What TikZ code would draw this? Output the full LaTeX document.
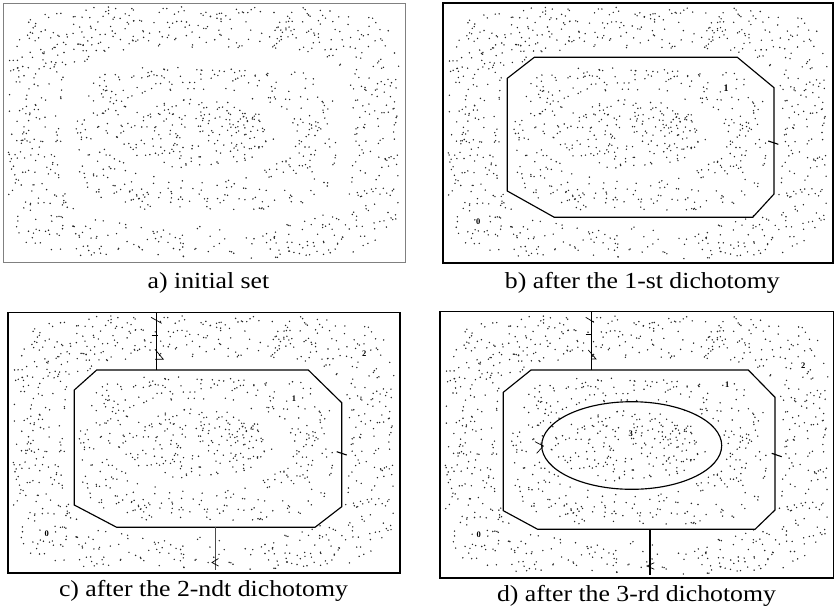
\documentclass[tikz,border=0pt]{standalone}
\usepackage{fontspec}
\setmainfont{Liberation Serif}
\newfontfamily\captfont[FakeStretch=1.12]{Liberation Serif}

% one point set, shared by all four panels
\gdef\cloudlist{}
\newcommand\addpoint[2]{%
  \ifx\cloudlist\empty\xdef\cloudlist{#1/#2}%
  \else\xdef\cloudlist{\cloudlist,#1/#2}\fi}

\pgfmathsetseed{2718}
% cluster 0: outer band
\foreach \k in {1,...,1500}{%
  \pgfmathsetmacro\px{197*rand}%
  \pgfmathsetmacro\py{127*rand}%
  \pgfmathtruncatemacro\ok{((abs(\px)/196)^6+(abs(\py)/126)^6<1) && ((abs(\px-3)/146)^4+(abs(\py-4)/89)^4>1)}%
  \ifnum\ok=1 \addpoint\px\py\fi}
% cluster 1: inner band
\foreach \k in {1,...,560}{%
  \pgfmathsetmacro\px{2+130*rand}%
  \pgfmathsetmacro\py{6+72*rand}%
  \pgfmathtruncatemacro\ok{((abs(\px-2)/130)^4+(abs(\py-6)/72)^4<1) && ((abs(\px+2)/92)^2+(abs(\py-4)/45)^2>1)}%
  \ifnum\ok=1 \addpoint\px\py\fi}
% cluster 3: core
\foreach \k in {1,...,250}{%
  \pgfmathsetmacro\px{-8+80*rand}%
  \pgfmathsetmacro\py{1+35*rand}%
  \pgfmathtruncatemacro\ok{(abs(\px+8)/80)^2+(abs(\py-1)/35)^2<1}%
  \ifnum\ok=1 \addpoint\px\py\fi}

\newcommand\drawcloud{%
  \foreach \x/\y in \cloudlist {\fill[dotc] (\x,\y) circle [radius=0.8pt];}}

\begin{document}
\begin{tikzpicture}[x=1pt, y=-1pt,
  dotc/.style={fill=black!85},
  frame/.style={line width=1.5pt},
  cut/.style={line width=1.15pt},
  lbl/.style={font=\fontsize{8.5}{9}\selectfont\bfseries, fill=white, inner sep=0.6pt},
  capt/.style={font=\captfont\fontsize{23}{27}\selectfont, inner sep=0pt, anchor=base}]
\useasboundingbox (0,0) rectangle (834,614);

% a) initial set
\draw[gray, line width=0.9pt] (3,3) rectangle (405,262);
\begin{scope}[shift={(204,132.5)}]
\drawcloud
\end{scope}
\node[capt] (capa) at (208.5,288.7) {a) initial set};

% b) first cut
\draw[frame] (443,3) rectangle (833,263);
\begin{scope}[shift={(638,133)}, xscale=0.97]
\drawcloud
\end{scope}
\draw[cut] (534.3,57.3) -- (737.3,57.3) -- (774,87.7) -- (774,194) -- (752.7,217.3)
  -- (554.3,217.3) -- (507.3,191) -- (507.3,78.3) -- cycle;
\draw[cut] (768.3,141) -- (778.3,144.3);
\node[lbl, font=\fontsize{10}{11}\selectfont\bfseries] (nb1) at (726,88.3) {1};
\node[lbl] (nb0) at (478.3,221.7) {0};
\node[capt] (capb) at (642.3,288.7) {b) after the 1-st dichotomy};

% c) second cut
\draw[frame] (8,312.5) rectangle (400,573);
\begin{scope}[shift={(204,442.5)}, xscale=0.975, yscale=1.008]
\drawcloud
\end{scope}
\draw[cut] (96.7,370) -- (308.3,370) -- (341.7,402.7) -- (341.7,506.7) -- (315,527.3)
  -- (116.7,527.3) -- (74.3,505) -- (74.3,390) -- cycle;
\draw[cut] (336.7,451.7) -- (346.7,455);
\coordinate (ct1) at (156.7,312.5);
\coordinate (ct2) at (156.7,370);
\draw[cut] (ct1) -- (ct2);
\draw[line width=0.7pt] (151,317.3) -- (161.7,323.3);
\draw[line width=0.7pt] (151.7,335) -- (157.5,335);
\draw[line width=0.7pt] (155,349.3) -- (163.3,359.3) -- (155,359.3);
\coordinate (cb1) at (215.7,527.3);
\coordinate (cb2) at (215.7,570);
\draw[line width=1.4pt, black!70] (cb1) -- (cb2);
\draw[line width=0.7pt] (218.5,558.5) -- (212,562.5) -- (218.5,566);
\node[lbl] (nc2) at (364.3,353.3) {2};
\node[lbl] (nc1) at (294,399) {1};
\node[lbl] (nc0) at (46.7,533.3) {0};
\node[capt] (capc) at (203.5,596.7) {c) after the 2-ndt dichotomy};

% d) third cut
\draw[frame] (440,311.7) rectangle (833.5,578);
\begin{scope}[shift={(637,445)}, xscale=0.98, yscale=1.027]
\drawcloud
\end{scope}
\draw[cut] (531,370) -- (748.3,370) -- (775,397.3) -- (775,510) -- (755,529.3)
  -- (537.7,529.3) -- (503.3,510.7) -- (503.3,392.3) -- cycle;
\draw[cut] (631.7,445.5) ellipse [x radius=90, y radius=43.8];
\draw[cut] (771.7,453.3) -- (781.7,456.7);
\draw[line width=0.7pt] (535,441.7) -- (543.3,446) -- (536.7,453.3);
\coordinate (dt1) at (591.7,311.7);
\coordinate (dt2) at (591.7,370);
\draw[cut] (dt1) -- (dt2);
\draw[line width=0.7pt] (585.7,317.3) -- (594,322.3);
\draw[line width=0.7pt] (585.7,334) -- (591.7,334);
\draw[line width=0.7pt] (588.3,350) -- (596,359) -- (591,359);
\coordinate (db1) at (650,529.3);
\coordinate (db2) at (650,575);
\draw[cut] (db1) -- (db2);
\draw[line width=0.7pt] (654.3,562.7) -- (647,566) -- (654.3,569.3);
\node[lbl] (nd2) at (803.3,365.7) {2};
\node[lbl] (nd1) at (727.3,384.3) {1};
\node[lbl] (nd3) at (630.7,433.3) {3};
\node[lbl] (nd0) at (478.7,535) {0};
\node[capt] (capd) at (636.5,601.7) {d) after the 3-rd dichotomy};
\end{tikzpicture}
\end{document}
